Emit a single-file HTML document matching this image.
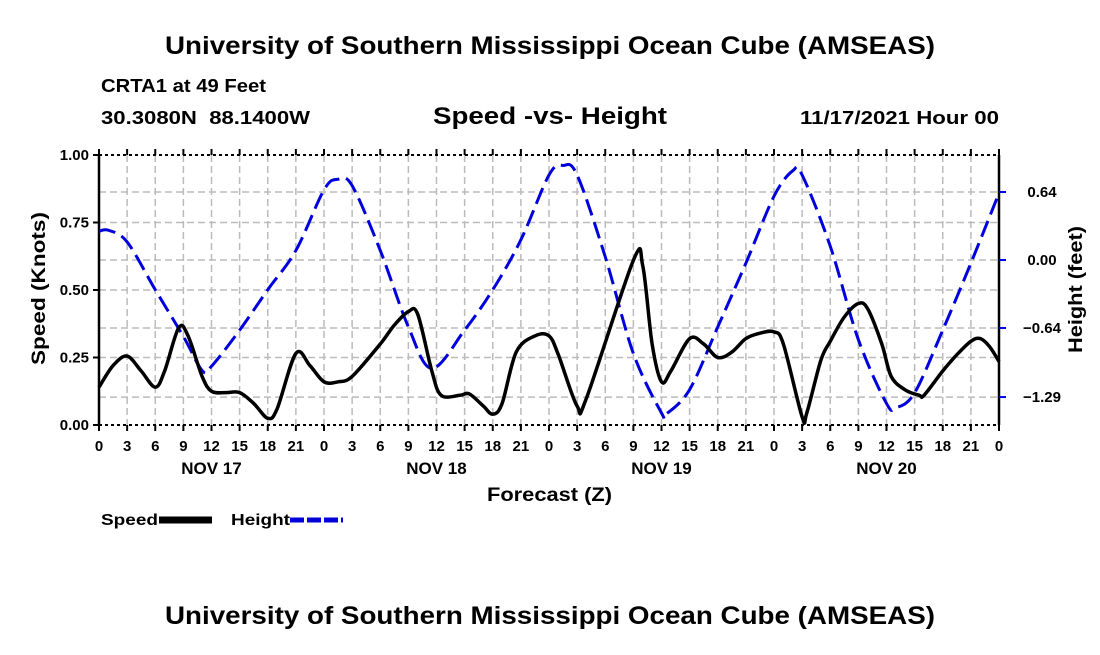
<!DOCTYPE html>
<html><head><meta charset="utf-8"><style>
body{margin:0;background:#fff}
svg text{font-family:"Liberation Sans",Arial,sans-serif;font-weight:bold;fill:#000}
</style></head><body>
<svg width="1100" height="650" viewBox="0 0 1100 650">
<text x="165" y="54" font-size="25" textLength="770" lengthAdjust="spacingAndGlyphs">University of Southern Mississippi Ocean Cube (AMSEAS)</text>
<text x="101" y="92" font-size="18" textLength="165" lengthAdjust="spacingAndGlyphs">CRTA1 at 49 Feet</text>
<text x="101" y="124" font-size="18" textLength="209" lengthAdjust="spacingAndGlyphs" xml:space="preserve">30.3080N  88.1400W</text>
<text x="433" y="124" font-size="24" textLength="234" lengthAdjust="spacingAndGlyphs">Speed -vs- Height</text>
<text x="800" y="124" font-size="18" textLength="199" lengthAdjust="spacingAndGlyphs">11/17/2021 Hour 00</text>
<g id="grid"></g>
<g id="axes"></g>
<g id="series"></g>
<text x="487" y="501" font-size="19" textLength="125" lengthAdjust="spacingAndGlyphs">Forecast (Z)</text>
<text transform="translate(45,365) rotate(-90)" font-size="19" textLength="153" lengthAdjust="spacingAndGlyphs">Speed (Knots)</text>
<text transform="translate(1082,353) rotate(-90)" font-size="19" textLength="127" lengthAdjust="spacingAndGlyphs">Height (feet)</text>
<g>
<text x="101" y="525" font-size="16" textLength="57" lengthAdjust="spacingAndGlyphs">Speed</text>
<line x1="159" y1="520" x2="212" y2="520" stroke="#000" stroke-width="7"/>
<text x="231" y="525" font-size="16" textLength="59" lengthAdjust="spacingAndGlyphs">Height</text>
<line x1="290" y1="520" x2="343" y2="520" stroke="#0000dd" stroke-width="5" stroke-dasharray="14,3"/>
</g>
<text x="165" y="624" font-size="25" textLength="770" lengthAdjust="spacingAndGlyphs">University of Southern Mississippi Ocean Cube (AMSEAS)</text>
</svg>
<script>
const speedHours=[0,1.5,3,4.5,6,7,8.5,9.5,11,12,13.5,15,16.5,18,19,21,22.5,24,25.5,27,30,31.5,33,34,35.5,36.5,38.5,39.5,41,42,43,44.5,46.5,48,49,51,52,57,58,59,60,61,63,64.5,66,67.5,69,70.5,72,73,75,75.5,77,78,79.5,81,82,83.5,84.5,86,87.5,88,90,91.5,93,94,95,96];
const speedValues=[.14,.22,.255,.2,.14,.2,.36,.33,.18,.125,.12,.12,.08,.025,.06,.265,.22,.16,.16,.18,.30,.37,.42,.41,.20,.11,.11,.115,.07,.04,.08,.27,.33,.33,.26,.07,.10,.61,.59,.30,.16,.20,.32,.30,.25,.27,.32,.34,.345,.30,.03,.045,.24,.31,.40,.45,.43,.30,.18,.13,.11,.11,.2,.26,.31,.32,.29,.235];
const heightHours=[0,1,3,6,9,11,12,15,18,21,24,25.5,27,30,33,35.5,39,42,45,48,49.5,51,54,57,60,60.5,63,66,69,72,74,75,78,81,84,85,87,90,93,96];
const heightValues=[.27,.28,.17,-.28,-.72,-1.04,-1.0,-.66,-.28,.09,.66,.76,.7,.09,-.63,-1.02,-.66,-.28,.19,.8,.89,.8,.03,-.88,-1.44,-1.45,-1.22,-.63,-.03,.6,.84,.8,.13,-.75,-1.35,-1.39,-1.25,-.66,-.03,.63];
const leftTicks=[0,0.25,0.5,0.75,1.0];
const leftTickLabels=["0.00","0.25","0.50","0.75","1.00"];
const rightTicks=[0.64,0,-0.64,-1.29];
const rightTickLabels=["0.64","0.00","\u22120.64","\u22121.29"];
const hourLabels=["0","3","6","9","12","15","18","21"];
const dayLabels=["NOV 17","NOV 18","NOV 19","NOV 20"];

const X0=99,X1=999,Y0=425,Y1=155;
const xs=h=>X0+(X1-X0)*h/96;
const ys=v=>Y0-(Y0-Y1)*v;
const yh=f=>260-f*106.25;
const NS='http://www.w3.org/2000/svg';
function mk(tag,attrs,parent,text){const e=document.createElementNS(NS,tag);for(const k in attrs)e.setAttribute(k,attrs[k]);if(text!==undefined)e.textContent=text;parent.appendChild(e);return e;}
const grid=document.getElementById('grid'),axes=document.getElementById('axes'),series=document.getElementById('series');
const gs={stroke:'#bbb','stroke-width':1.5,'stroke-dasharray':'7,4'};
for(let h=3;h<96;h+=3){const l=mk('line',Object.assign({x1:xs(h),x2:xs(h),y1:Y1,y2:Y0},gs),grid);

}
[0.25,0.5,0.75].forEach(v=>{const l=mk('line',Object.assign({x1:X0,x2:X1,y1:ys(v),y2:ys(v)},gs),grid);

});
rightTicks.forEach(v=>{const l=mk('line',Object.assign({x1:X0,x2:X1,y1:yh(v),y2:yh(v)},gs),grid);

});
mk('line',{x1:X0,x2:X0,y1:Y1,y2:Y0,stroke:'#000','stroke-width':2.5},axes);
mk('line',{x1:X1,x2:X1,y1:Y1,y2:Y0,stroke:'#000','stroke-width':2.5},axes);
mk('line',{x1:X0,x2:X1,y1:Y1,y2:Y1,stroke:'#000','stroke-width':2,'stroke-dasharray':'3,3'},axes);
mk('line',{x1:X0,x2:X1,y1:Y0,y2:Y0,stroke:'#000','stroke-width':2,'stroke-dasharray':'3,3'},axes);
leftTicks.forEach((v,i)=>{mk('line',{x1:X0-6,x2:X0,y1:ys(v),y2:ys(v),stroke:'#000','stroke-width':2},axes);
const t=mk('text',{x:X0-10,y:ys(v)+5,'font-size':15,'text-anchor':'end'},axes,leftTickLabels[i]);

});
rightTicks.forEach((v,i)=>{mk('line',{x1:X1,x2:X1+7,y1:yh(v),y2:yh(v),stroke:'#0000dd','stroke-width':2},axes);
const t=mk('text',{x:1042,y:yh(v)+5,'font-size':15,'text-anchor':'middle'},axes,rightTickLabels[i]);

});
for(let h=0;h<=96;h+=3){mk('line',{x1:xs(h),x2:xs(h),y1:Y0,y2:Y0+6,stroke:'#000','stroke-width':2},axes);
mk('line',{x1:xs(h),x2:xs(h),y1:Y1-6,y2:Y1,stroke:'#000','stroke-width':2},axes);
const t=mk('text',{x:xs(h),y:451,'font-size':15,'text-anchor':'middle'},axes,h===96?'0':hourLabels[(h/3)%8]);

}
dayLabels.forEach((d,i)=>{const t=mk('text',{x:xs(12+24*i),y:474,'font-size':17,'text-anchor':'middle'},axes,d);

});
function smooth(pts){let d='M'+pts[0][0]+','+pts[0][1];for(let i=0;i<pts.length-1;i++){const p0=pts[Math.max(0,i-1)],p1=pts[i],p2=pts[i+1],p3=pts[Math.min(pts.length-1,i+2)];
const c1=[p1[0]+(p2[0]-p0[0])/6,p1[1]+(p2[1]-p0[1])/6],c2=[p2[0]-(p3[0]-p1[0])/6,p2[1]-(p3[1]-p1[1])/6];
d+=' C'+c1+' '+c2+' '+p2;}return d;}
const hp=mk('path',{d:smooth(heightHours.map((h,i)=>[xs(h),yh(heightValues[i])])),fill:'none',stroke:'#0000dd','stroke-width':3,'stroke-dasharray':'17,7'},series);


const sp=mk('path',{d:smooth(speedHours.map((h,i)=>[xs(h),ys(speedValues[i])])),fill:'none',stroke:'#000','stroke-width':3.5,'stroke-linejoin':'round'},series);


</script>
</body></html>
